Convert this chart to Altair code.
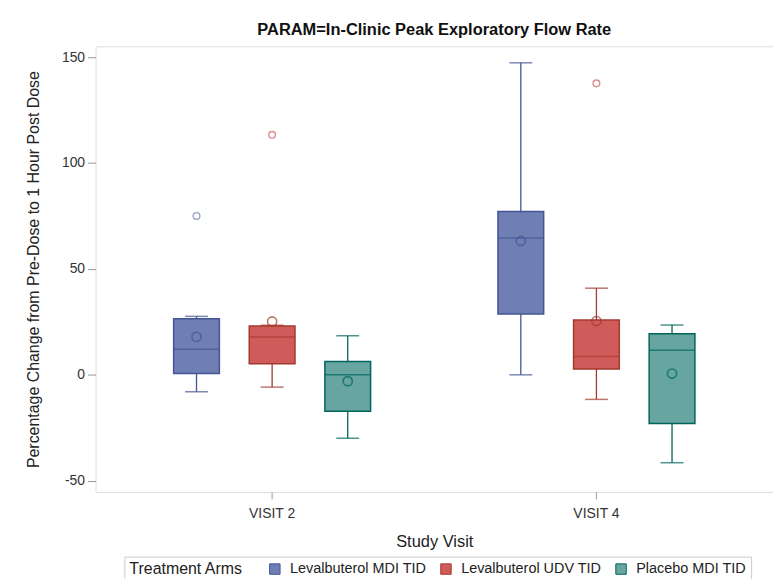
import altair as alt
import pandas as pd

visits = ["VISIT 2", "VISIT 2", "VISIT 2", "VISIT 4", "VISIT 4", "VISIT 4"]
arms_order = ["Levalbuterol MDI TID", "Levalbuterol UDV TID", "Placebo MDI TID"]
arms = arms_order * 2
q1 = [0.6, 5.2, -17.2, 28.7, 2.8, -23.0]
median = [12.1, 17.9, 0.0, 64.6, 8.6, 11.6]
q3 = [26.5, 23.0, 6.3, 77.1, 25.9, 19.4]
whisk_lo = [-8.0, -5.8, -29.9, 0.0, -11.6, -41.5]
whisk_hi = [27.6, 23.4, 18.5, 147.3, 40.9, 23.5]
mean = [17.9, 25.2, -3.0, 63.2, 25.4, 0.6]

out_visit = ["VISIT 2", "VISIT 2", "VISIT 4"]
out_arm = ["Levalbuterol MDI TID", "Levalbuterol UDV TID", "Levalbuterol UDV TID"]
out_val = [75.0, 113.3, 137.6]

fill_colors = ["#6F7EB3", "#D05B5B", "#66A5A0"]
line_colors = ["#445694", "#A23A2E", "#01665E"]

box = pd.DataFrame({"visit": visits, "arm": arms, "q1": q1, "median": median,
                    "q3": q3, "lo": whisk_lo, "hi": whisk_hi, "mean": mean})
outl = pd.DataFrame({"visit": out_visit, "arm": out_arm, "value": out_val})

FONT = "Liberation Sans"

legend = alt.Legend(
    title="Treatment Arms", orient="none", legendX=29, legendY=513,
    direction="horizontal", titleOrient="left", strokeColor="#cccccc",
    fillColor="white", padding=5, symbolType="square", symbolSize=110,
    symbolStrokeWidth=1, labelFontSize=14.5, titleFontSize=16,
    titleFontWeight="normal", columnPadding=12, labelOffset=8, titlePadding=24,
    labelFont=FONT, titleFont=FONT, labelColor="#222", titleColor="#222",
)

x = alt.X("visit:N", title="Study Visit",
          scale=alt.Scale(paddingInner=0, paddingOuter=0.0445),
          axis=alt.Axis(labelAngle=0, domain=False, tickSize=7, tickColor="#999",
                        labelPadding=8, labelFontSize=14, titleFontSize=16.5,
                        titlePadding=13, titleFontWeight="normal",
                        labelFont=FONT, titleFont=FONT,
                        labelColor="#333", titleColor="#222"))
xo = alt.XOffset("arm:N", sort=arms_order,
                 scale=alt.Scale(paddingInner=0.395, paddingOuter=0.842))
yscale = alt.Scale(domain=[-55.3, 155.1], nice=False, zero=False)
yaxis = alt.Axis(values=[-50, 0, 50, 100, 150], domain=False, grid=False,
                 labelExpr="'' + datum.value",
                 tickSize=8, tickColor="#999", labelPadding=3, labelFontSize=14,
                 titleFontSize=16, titlePadding=20, titleFontWeight="normal",
                 labelFont=FONT, titleFont=FONT, labelColor="#333", titleColor="#222")

stroke = alt.Stroke("arm:N", scale=alt.Scale(domain=arms_order, range=line_colors), legend=legend)
fill = alt.Fill("arm:N", scale=alt.Scale(domain=arms_order, range=fill_colors), legend=legend)
line_color = alt.Color("arm:N", scale=alt.Scale(domain=arms_order, range=line_colors), legend=None)

base = alt.Chart(box)

whisk = base.mark_rule(strokeWidth=1.3).encode(
    x=x, xOffset=xo,
    y=alt.Y("lo:Q", scale=yscale, axis=yaxis,
            title="Percentage Change from Pre-Dose to 1 Hour Post Dose"),
    y2="hi:Q", stroke=stroke)

bars = base.mark_bar(strokeWidth=1.5, opacity=1).encode(
    x=x, xOffset=xo, y="q1:Q", y2="q3:Q", fill=fill, stroke=stroke)

med = base.mark_tick(size=46, thickness=1.5).encode(
    x=x, xOffset=xo, y="median:Q", color=line_color)

cap_lo = base.mark_tick(size=23, thickness=1.5).encode(
    x=x, xOffset=xo, y="lo:Q", color=line_color)
cap_hi = base.mark_tick(size=23, thickness=1.5).encode(
    x=x, xOffset=xo, y="hi:Q", color=line_color)

mean_pt = base.mark_point(shape="circle", filled=False, size=85, strokeWidth=1.6).encode(
    x=x, xOffset=xo, y="mean:Q", stroke=stroke)

out_pts = alt.Chart(outl).mark_point(shape="circle", filled=False, size=45, strokeWidth=1.4).encode(
    x=x, xOffset=xo, y="value:Q",
    color=alt.Color("arm:N", scale=alt.Scale(domain=arms_order, range=fill_colors), legend=None))

chart = alt.layer(whisk, bars, med, cap_lo, cap_hi, mean_pt, out_pts).resolve_scale(
    color="independent"
).properties(
    width=681, height=448,
    title=alt.TitleParams("PARAM=In-Clinic Peak Exploratory Flow Rate", fontSize=16.5,
                          fontWeight="bold", font=FONT, anchor="middle", frame="group",
                          offset=8, color="#111"),
    autosize=alt.AutoSizeParams(type="none"),
    padding={"left": 88, "top": 37, "right": 0, "bottom": 86},
).configure_view(stroke="#aaaaaa", strokeWidth=1.2).configure(background="white")

chart.save("out.html", embed_options={"renderer": "svg", "actions": False})
